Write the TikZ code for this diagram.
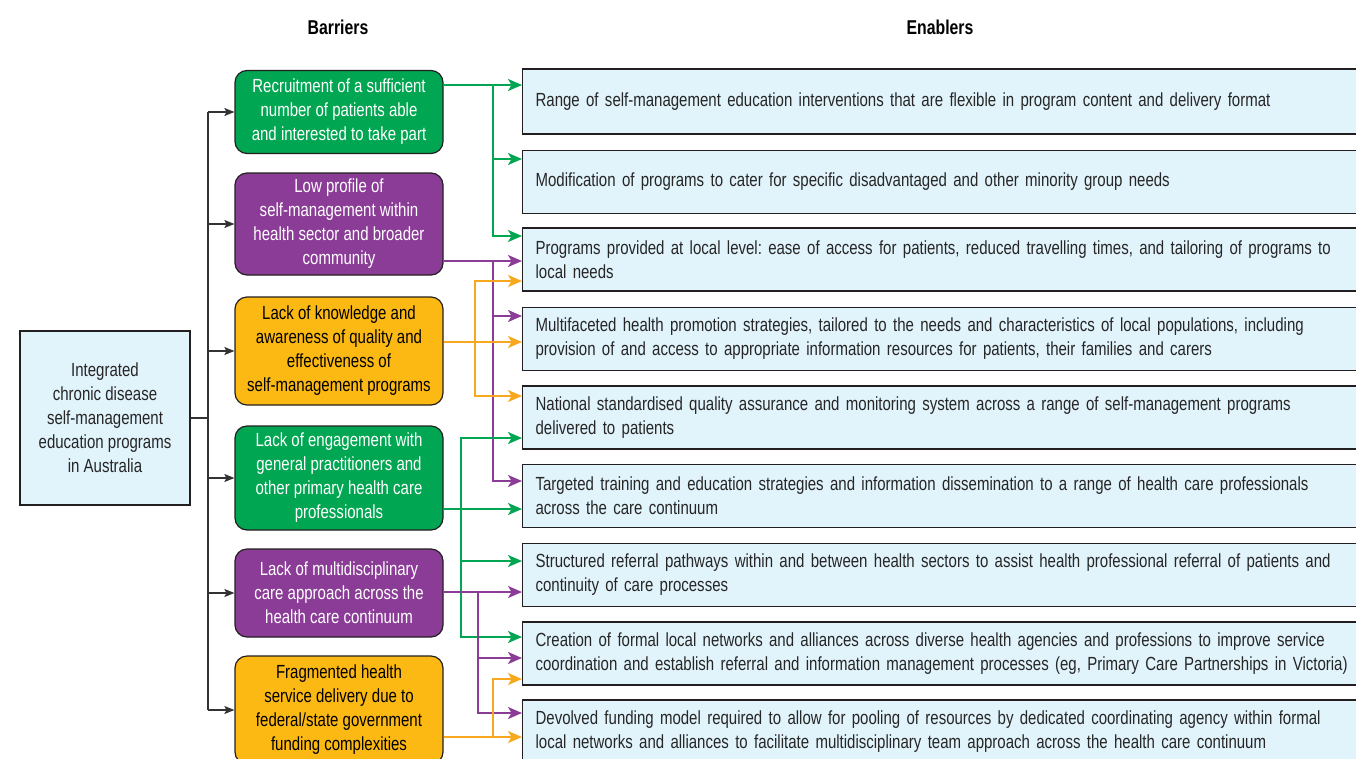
\documentclass[tikz,border=0pt]{standalone}
\usepackage{fontspec}
\setmainfont{Liberation Sans}[FakeStretch=0.79]
\usetikzlibrary{arrows.meta}
\definecolor{cgreen}{RGB}{0,166,81}
\definecolor{cpurple}{RGB}{139,60,151}
\definecolor{corange}{RGB}{253,185,19}
\definecolor{oline}{RGB}{248,168,30}
\definecolor{eblue}{RGB}{225,243,251}
\definecolor{edge}{RGB}{35,31,32}
\tikzset{
  txt/.style={font=\fontsize{19}{24}\selectfont},
  barrier/.style={txt,draw=edge,line width=1.2pt,rounded corners=12pt,minimum width=208pt,align=center,inner sep=2pt},
  greenbox/.style={barrier,fill=cgreen,text=white},
  purplebox/.style={barrier,fill=cpurple,text=white},
  orangebox/.style={barrier,fill=corange,text=black},
  enabler/.style={txt,draw=edge,line width=1.2pt,fill=eblue,anchor=west,minimum width=840pt,minimum height=63pt,text width=830pt,align=left,inner xsep=13pt,text=black!85},
  tip/.style={-{Stealth[length=14pt,width=12pt,inset=3.5pt]}},
  gline/.style={draw=cgreen,line width=1.6pt,tip},
  pline/.style={draw=cpurple,line width=1.6pt,tip},
  oline/.style={draw=oline,line width=1.6pt,tip},
  trunk/.style={draw=black!80,line width=1.3pt}
}
\begin{document}
\frenchspacing
\begin{tikzpicture}[x=1pt,y=-1pt]
\useasboundingbox (0,0) rectangle (1356,758);
% headings
\node (hbar) at (338,27) [font=\fontsize{20}{24}\selectfont\bfseries] {Barriers};
\node (hena) at (940,27) [font=\fontsize{20}{24}\selectfont\bfseries] {Enablers};
% programme
\node (prog) at (105,418) [txt,draw=edge,line width=1.2pt,fill=eblue,minimum width=170pt,minimum height=174pt,align=center,text=black!85] {Integrated\\chronic disease\\self-management\\education programs\\in Australia};
% barriers
\node (B1) at (339,112) [greenbox,minimum height=83pt] {Recruitment of a sufficient\\number of patients able\\and interested to take part};
\node (B2) at (339,224) [purplebox,minimum height=102pt] {Low profile of\\self-management within\\health sector and broader\\community};
\node (B3) at (339,351) [orangebox,minimum height=108pt] {Lack of knowledge and\\awareness of quality and\\effectiveness of\\self-management programs};
\node (B4) at (339,478) [greenbox,minimum height=104pt] {Lack of engagement with\\general practitioners and\\other primary health care\\professionals};
\node (B5) at (339,593) [purplebox,minimum height=88pt] {Lack of multidisciplinary\\care approach across the\\health care continuum};
\node (B6) at (339,710) [orangebox,minimum height=108pt] {Fragmented health\\service delivery due to\\federal/state government\\funding complexities};
% enablers
\node (E1) at (522,101.5) [enabler,minimum height=65pt] {Range of self-management education interventions that are flexible in program content and delivery format};
\node (E2) at (522,182) [enabler] {Modification of programs to cater for specific disadvantaged and other minority group needs};
\node (E3) at (522,259.5) [enabler] {Programs provided at local level: ease of access for patients, reduced travelling times, and tailoring of programs to\\local needs};
\node (E4) at (522,339) [enabler] {Multifaceted health promotion strategies, tailored to the needs and characteristics of local populations, including\\provision of and access to appropriate information resources for patients, their families and carers};
\node (E5) at (522,417.5) [enabler] {National standardised quality assurance and monitoring system across a range of self-management programs\\delivered to patients};
\node (E6) at (522,496) [enabler] {Targeted training and education strategies and information dissemination to a range of health care professionals\\across the care continuum};
\node (E7) at (522,575) [enabler] {Structured referral pathways within and between health sectors to assist health professional referral of patients and\\continuity of care processes};
\node (E8) at (522,653.5) [enabler] {Creation of formal local networks and alliances across diverse health agencies and professions to improve service\\coordination and establish referral and information management processes (eg, Primary Care Partnerships in Victoria)};
\node (E9) at (522,731.5) [enabler] {Devolved funding model required to allow for pooling of resources by dedicated coordinating agency within formal\\local networks and alliances to facilitate multidisciplinary team approach across the health care continuum};
% programme to barriers
\coordinate (T) at (208,418);
\draw[trunk] (prog.east) -- (T);
\draw[trunk] (T |- B1.west) -- (T |- B6.west);
\foreach \b in {B1,B2,B3,B4,B5,B6}
  \draw[trunk,-{Stealth[length=10pt,width=8pt,inset=2pt]}] (T |- \b.west) -- (\b.west);
% green, recruitment
\coordinate (gA) at (493,85);
\draw[gline] (B1.east |- gA) -- (E1.west |- gA);
\draw[gline] (gA) |- (E2.west |- 0,159);
\draw[gline] (gA) |- (E3.west |- 0,236);
% purple, low profile
\coordinate (pA) at (493,261);
\draw[pline] (B2.east |- pA) -- (E3.west |- pA);
\draw[pline] (pA) |- (E4.west |- 0,316);
\draw[pline] (pA) |- (E6.west |- 0,481);
% orange, knowledge
\coordinate (oA) at (475,342);
\draw[oline] (B3.east |- oA) -- (E4.west |- oA);
\draw[oline] (oA) |- (E3.west |- 0,281);
\draw[oline] (oA) |- (E5.west |- 0,396);
% green, engagement
\coordinate (gB) at (461,509);
\draw[gline] (B4.east |- gB) -- (E6.west |- gB);
\draw[gline] (gB) |- (E5.west |- 0,438);
\draw[gline] (gB) |- (E7.west |- 0,561);
\draw[gline] (gB) |- (E8.west |- 0,637);
% purple, multidisciplinary
\coordinate (pB) at (478,592);
\draw[pline] (B5.east |- pB) -- (E7.west |- pB);
\draw[pline] (pB) |- (E8.west |- 0,658);
\draw[pline] (pB) |- (E9.west |- 0,713);
% orange, fragmented
\coordinate (oB) at (493,737);
\draw[oline] (B6.east |- oB) -- (E9.west |- oB);
\draw[oline] (oB) |- (E8.west |- 0,679);
\end{tikzpicture}
\end{document}
